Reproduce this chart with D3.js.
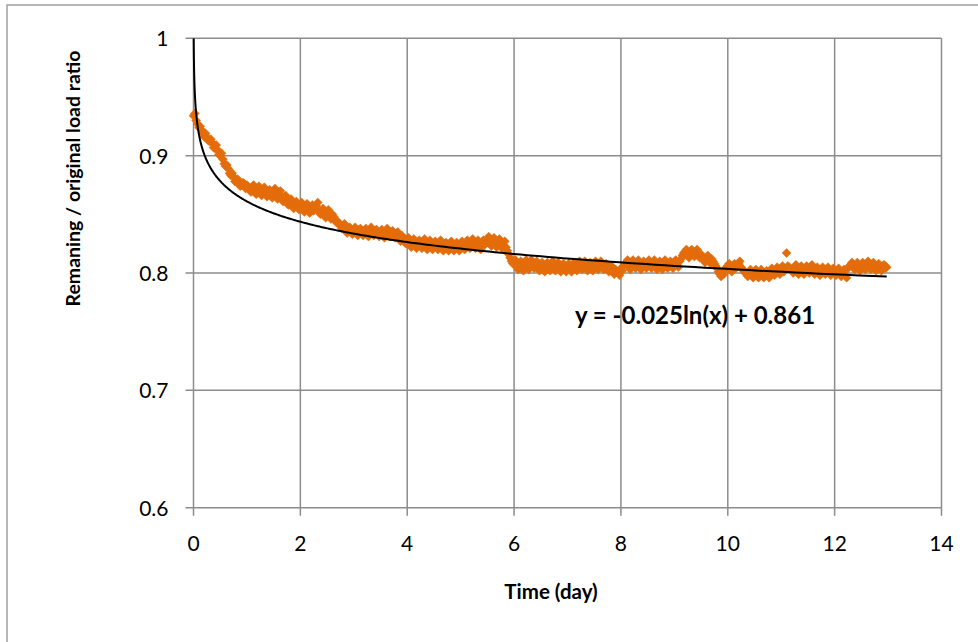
<!DOCTYPE html>
<html>
<head>
<meta charset="utf-8">
<script src="https://cdn.jsdelivr.net/npm/d3@7/dist/d3.min.js"></script>
<style>
  html, body { margin: 0; padding: 0; background: #fff; }
  svg { display: block; }
  text { font-family: Lato, "Open Sans", sans-serif; fill: #000; }
</style>
</head>
<body>
<svg id="chart" width="978" height="642"></svg>
<script>
// Load relaxation record: remaining / original load, one reading every 0.025 day
const sampleStepDays = 0.025;
const loadRatio = [
  // day 0
  0.934, 0.936, 0.930, 0.927, 0.924, 0.925, 0.922, 0.919, 0.916, 0.919, 0.916, 0.913, 0.912, 0.914, 0.911, 0.907, 0.906, 0.909, 0.905, 0.901,
  0.900, 0.902, 0.897, 0.893, 0.891, 0.892, 0.889, 0.885, 0.883, 0.885, 0.882, 0.878, 0.878, 0.880, 0.878, 0.874, 0.875, 0.877, 0.876, 0.872,
  // day 1
  0.875, 0.873, 0.871, 0.869, 0.873, 0.875, 0.869, 0.867, 0.872, 0.874, 0.868, 0.866, 0.871, 0.873, 0.867, 0.865, 0.869, 0.871, 0.866, 0.864,
  0.869, 0.872, 0.865, 0.863, 0.868, 0.870, 0.864, 0.861, 0.865, 0.866, 0.860, 0.858, 0.861, 0.863, 0.857, 0.855, 0.859, 0.861, 0.856, 0.854,
  // day 2
  0.858, 0.860, 0.854, 0.852, 0.857, 0.859, 0.853, 0.851, 0.856, 0.858, 0.853, 0.855, 0.857, 0.860, 0.852, 0.850, 0.853, 0.855, 0.849, 0.847,
  0.852, 0.854, 0.848, 0.846, 0.850, 0.848, 0.845, 0.843, 0.844, 0.842, 0.840, 0.838, 0.840, 0.842, 0.836, 0.834, 0.838, 0.839, 0.835, 0.833,
  // day 3
  0.837, 0.839, 0.834, 0.832, 0.837, 0.838, 0.834, 0.832, 0.836, 0.838, 0.833, 0.831, 0.837, 0.839, 0.834, 0.832, 0.836, 0.837, 0.833, 0.831,
  0.835, 0.837, 0.832, 0.830, 0.836, 0.838, 0.833, 0.831, 0.835, 0.836, 0.832, 0.830, 0.834, 0.835, 0.830, 0.827, 0.832, 0.829, 0.827, 0.825,
  // day 4
  0.829, 0.830, 0.824, 0.822, 0.827, 0.829, 0.823, 0.821, 0.826, 0.828, 0.823, 0.821, 0.827, 0.829, 0.823, 0.820, 0.826, 0.828, 0.822, 0.820,
  0.825, 0.827, 0.822, 0.820, 0.826, 0.828, 0.821, 0.819, 0.824, 0.826, 0.821, 0.819, 0.825, 0.827, 0.821, 0.819, 0.824, 0.826, 0.821, 0.819,
  // day 5
  0.825, 0.827, 0.822, 0.820, 0.826, 0.828, 0.823, 0.821, 0.827, 0.829, 0.823, 0.821, 0.826, 0.828, 0.822, 0.820, 0.826, 0.828, 0.824, 0.826,
  0.829, 0.831, 0.825, 0.823, 0.828, 0.830, 0.824, 0.822, 0.827, 0.829, 0.823, 0.821, 0.826, 0.827, 0.822, 0.819, 0.816, 0.813, 0.810, 0.808,
  // day 6
  0.809, 0.811, 0.805, 0.803, 0.808, 0.810, 0.804, 0.802, 0.809, 0.811, 0.805, 0.803, 0.810, 0.811, 0.806, 0.804, 0.808, 0.810, 0.804, 0.802,
  0.807, 0.809, 0.803, 0.801, 0.807, 0.809, 0.804, 0.802, 0.808, 0.810, 0.804, 0.802, 0.807, 0.809, 0.803, 0.801, 0.806, 0.808, 0.803, 0.801,
  // day 7
  0.806, 0.808, 0.803, 0.801, 0.807, 0.809, 0.804, 0.802, 0.808, 0.810, 0.805, 0.803, 0.808, 0.810, 0.804, 0.802, 0.807, 0.809, 0.804, 0.802,
  0.808, 0.810, 0.805, 0.803, 0.808, 0.810, 0.805, 0.803, 0.807, 0.808, 0.803, 0.801, 0.805, 0.806, 0.801, 0.799, 0.803, 0.801, 0.800, 0.798,
  // day 8
  0.804, 0.802, 0.806, 0.808, 0.809, 0.811, 0.805, 0.803, 0.809, 0.811, 0.806, 0.804, 0.809, 0.811, 0.805, 0.803, 0.808, 0.810, 0.806, 0.804,
  0.809, 0.811, 0.806, 0.804, 0.809, 0.811, 0.805, 0.803, 0.808, 0.810, 0.805, 0.803, 0.809, 0.811, 0.806, 0.804, 0.808, 0.810, 0.806, 0.804,
  // day 9
  0.809, 0.811, 0.807, 0.805, 0.810, 0.812, 0.815, 0.817, 0.818, 0.820, 0.815, 0.813, 0.818, 0.820, 0.816, 0.814, 0.818, 0.820, 0.815, 0.813,
  0.816, 0.814, 0.811, 0.809, 0.813, 0.815, 0.810, 0.808, 0.812, 0.810, 0.808, 0.806, 0.804, 0.801, 0.799, 0.797, 0.801, 0.799, 0.803, 0.805,
  // day 10
  0.806, 0.808, 0.803, 0.801, 0.806, 0.808, 0.804, 0.806, 0.808, 0.810, 0.805, 0.803, 0.802, 0.800, 0.799, 0.797, 0.801, 0.803, 0.798, 0.796,
  0.801, 0.803, 0.798, 0.796, 0.801, 0.803, 0.798, 0.796, 0.800, 0.802, 0.798, 0.796, 0.802, 0.804, 0.800, 0.798, 0.803, 0.805, 0.801, 0.799,
  // day 11
  0.804, 0.806, 0.801, 0.803, 0.817, 0.806, 0.805, 0.803, 0.802, 0.800, 0.805, 0.807, 0.801, 0.799, 0.804, 0.806, 0.801, 0.799, 0.804, 0.806,
  0.802, 0.800, 0.805, 0.807, 0.801, 0.799, 0.803, 0.805, 0.800, 0.798, 0.803, 0.805, 0.801, 0.799, 0.803, 0.805, 0.800, 0.798, 0.802, 0.804,
  // day 12
  0.800, 0.798, 0.802, 0.804, 0.799, 0.797, 0.801, 0.803, 0.798, 0.796, 0.804, 0.806, 0.807, 0.809, 0.805, 0.803, 0.807, 0.809, 0.804, 0.802,
  0.807, 0.809, 0.805, 0.803, 0.808, 0.810, 0.805, 0.803, 0.807, 0.809, 0.804, 0.802, 0.806, 0.808, 0.804, 0.802, 0.806, 0.807, 0.804, 0.805
];

// Logarithmic trend fitted to the record
const trendSlope = -0.025;
const trendIntercept = 0.861;
const trendLabel = "y = -0.025ln(x) + 0.861";

const xTickValues = [0, 2, 4, 6, 8, 10, 12, 14];
const yTickValues = [0.6, 0.7, 0.8, 0.9, 1];
const xTitle = "Time (day)";
const yTitle = "Remaning / original load ratio";

const points = loadRatio.map((v, i) => ({ day: i * sampleStepDays, ratio: v }));

const svg = d3.select("#chart");
const W = 978, H = 642;
const plot = { left: 193.5, right: 941.5, top: 38.3, bottom: 507.7 };

const x = d3.scaleLinear().domain([0, 14]).range([plot.left, plot.right]);
const y = d3.scaleLinear().domain([0.6, 1]).range([plot.bottom, plot.top]);

const gridColor = "#8c8c8c";
const orange = "#E46C0A";

// chart-area frame
svg.append("rect")
  .attr("x", 7).attr("y", 5)
  .attr("width", W + 20).attr("height", H + 20)
  .attr("fill", "#fff")
  .attr("stroke", "#a0a0a0").attr("stroke-width", 1.5);

// gridlines + outward tick marks
const grid = svg.append("g");
grid.selectAll("line.h").data(yTickValues).join("line")
  .attr("class", "h")
  .attr("x1", plot.left - 8).attr("x2", plot.right)
  .attr("y1", d => y(d)).attr("y2", d => y(d))
  .attr("stroke", gridColor).attr("stroke-width", 1.5);
grid.selectAll("line.v").data(xTickValues).join("line")
  .attr("class", "v")
  .attr("x1", d => x(d)).attr("x2", d => x(d))
  .attr("y1", plot.top).attr("y2", plot.bottom + 8)
  .attr("stroke", gridColor).attr("stroke-width", 1.5);

// tick labels
svg.append("g").selectAll("text").data(yTickValues).join("text")
  .attr("x", plot.left - 25)
  .attr("y", d => y(d) + 8)
  .attr("text-anchor", "end")
  .attr("font-size", 21)
  .text(d => d3.format("")(d));

svg.append("g").selectAll("text").data(xTickValues).join("text")
  .attr("x", d => x(d))
  .attr("y", plot.bottom + 43)
  .attr("text-anchor", "middle")
  .attr("font-size", 21)
  .text(d => d);

// axis titles
svg.append("text")
  .attr("x", 551).attr("y", 599)
  .attr("text-anchor", "middle")
  .attr("font-size", 20.5).attr("font-weight", "bold")
  .text(xTitle);

svg.append("text")
  .attr("transform", "translate(80,178.5) rotate(-90)")
  .attr("text-anchor", "middle")
  .attr("font-size", 19.5).attr("font-weight", "bold")
  .text(yTitle);

// clip for the data layer
svg.append("clipPath").attr("id", "plotClip")
  .append("rect")
  .attr("x", plot.left - 6).attr("y", plot.top)
  .attr("width", plot.right - plot.left + 12)
  .attr("height", plot.bottom - plot.top);

// diamond markers
const diamond = {
  draw(ctx, size) {
    const r = Math.sqrt(size / 2);
    ctx.moveTo(0, -r); ctx.lineTo(r, 0); ctx.lineTo(0, r); ctx.lineTo(-r, 0); ctx.closePath();
  }
};
const marker = d3.symbol().type(diamond).size(40);

svg.append("g").attr("clip-path", "url(#plotClip)")
  .selectAll("path").data(points).join("path")
  .attr("transform", d => `translate(${x(d.day)},${y(d.ratio)})`)
  .attr("d", marker)
  .attr("fill", orange)
  .attr("stroke", orange).attr("stroke-width", 0.5);

// trendline from where it enters the plot (y = 1) to the last reading
const lastDay = points[points.length - 1].day;
const firstDay = Math.exp((1 - trendIntercept) / trendSlope);
const trendPts = d3.range(0, 401).map(i => {
  const t = Math.exp(Math.log(firstDay) + (Math.log(lastDay) - Math.log(firstDay)) * i / 400);
  return { day: t, ratio: trendSlope * Math.log(t) + trendIntercept };
});
svg.append("path")
  .datum(trendPts)
  .attr("clip-path", "url(#plotClip)")
  .attr("fill", "none")
  .attr("stroke", "#000").attr("stroke-width", 2)
  .attr("d", d3.line().x(d => x(d.day)).y(d => y(d.ratio)));

// trend equation
svg.append("text")
  .attr("x", 695).attr("y", 324)
  .attr("text-anchor", "middle")
  .attr("font-size", 24).attr("font-weight", "bold")
  .text(trendLabel);
</script>
</body>
</html>
